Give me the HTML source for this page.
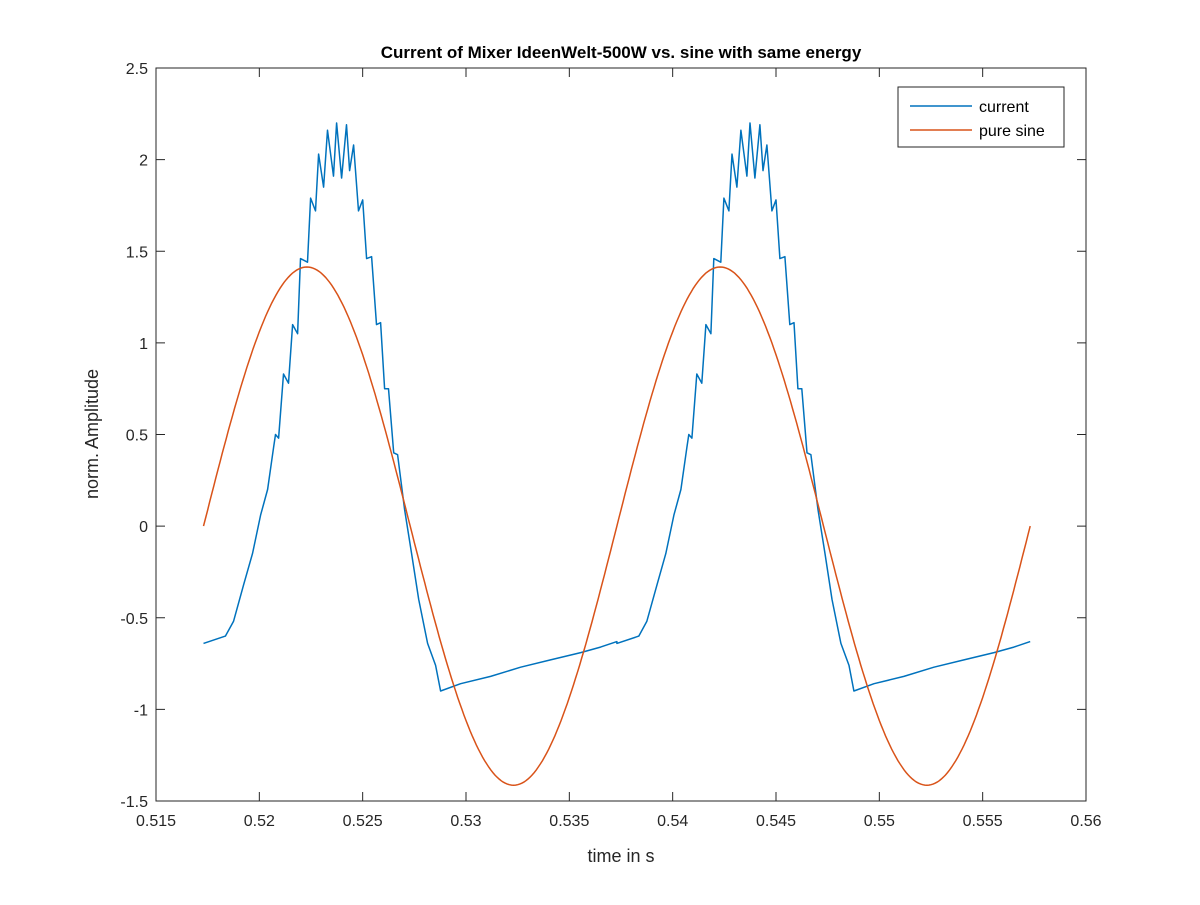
<!DOCTYPE html>
<html><head><meta charset="utf-8"><style>
body{margin:0;background:#fff}
svg text{font-family:"Liberation Sans",sans-serif;fill:#262626}
</style></head><body>
<svg id="chart" width="1200" height="900">
<rect x="0" y="0" width="1200" height="900" fill="#fff"/>
<rect x="156" y="68" width="930" height="733" fill="#fff"/>
<g id="grid"></g>
<clipPath id="clip"><rect x="156" y="68" width="930" height="733"/></clipPath>
<g id="series" clip-path="url(#clip)"></g>
<rect x="156" y="68" width="930" height="733" fill="none" stroke="#262626" stroke-width="1"/>
<text x="621" y="58" text-anchor="middle" font-size="17" font-weight="bold" style="fill:#000">Current of Mixer IdeenWelt-500W vs. sine with same energy</text>
<text x="621" y="862" text-anchor="middle" font-size="18">time in s</text>
<text x="98" y="434" text-anchor="middle" font-size="18" transform="rotate(-90 98 434)">norm. Amplitude</text>
<g>
<rect x="898" y="87" width="166" height="60" fill="#fff" stroke="#262626" stroke-width="1"/>
<line x1="910" y1="106" x2="972" y2="106" stroke="#0072BD" stroke-width="1.5"/>
<text x="979" y="112" font-size="16" style="fill:#000">current</text>
<line x1="910" y1="130" x2="972" y2="130" stroke="#D95319" stroke-width="1.5"/>
<text x="979" y="136" font-size="16" style="fill:#000">pure sine</text>
</g>
</svg>
<script>
const xTicks=[0.515,0.52,0.525,0.53,0.535,0.54,0.545,0.55,0.555,0.56];
const xTickLabels=["0.515","0.52","0.525","0.53","0.535","0.54","0.545","0.55","0.555","0.56"];
const yTicks=[-1.5,-1,-0.5,0,0.5,1,1.5,2,2.5];
const yTickLabels=["-1.5","-1","-0.5","0","0.5","1","1.5","2","2.5"];
const cycleStarts=[0.5173,0.5373];
// time since cycle start (s)
const cycleDt=[0,0.00106,0.00145,0.00194,0.00237,0.00276,0.00310,0.00339,0.00348,0.00363,0.00387,0.00411,0.00431,0.00455,0.00469,0.00503,0.00518,0.00542,0.00557,0.00581,0.00600,0.00629,0.00644,0.00668,0.00692,0.00707,0.00726,0.00750,0.00770,0.00789,0.00813,0.00837,0.00857,0.00876,0.00895,0.00920,0.00939,0.00973,0.01007,0.01041,0.01084,0.01123,0.01147,0.01244,0.01389,0.01534,0.01679,0.01825,0.01921,0.02000];
const cycleY=[-0.64,-0.60,-0.52,-0.32,-0.15,0.06,0.20,0.43,0.50,0.48,0.83,0.78,1.10,1.05,1.46,1.44,1.79,1.72,2.03,1.85,2.16,1.91,2.20,1.90,2.19,1.94,2.08,1.72,1.78,1.46,1.47,1.10,1.11,0.75,0.75,0.40,0.39,0.09,-0.15,-0.40,-0.64,-0.76,-0.90,-0.86,-0.82,-0.77,-0.73,-0.69,-0.66,-0.63];
const sineAmp=1.414, sineFreq=50, sineStart=0.5173, sineEnd=0.5573;

const X0=156,X1=1086,Y0=801,Y1=68,xmin=0.515,xmax=0.56,ymin=-1.5,ymax=2.5;
const sx=v=>X0+(v-xmin)/(xmax-xmin)*(X1-X0);
const sy=v=>Y0-(v-ymin)/(ymax-ymin)*(Y0-Y1);
const NS="http://www.w3.org/2000/svg";
const grid=document.getElementById('grid'), series=document.getElementById('series');
function mk(tag,attrs,parent){const e=document.createElementNS(NS,tag);for(const k in attrs)e.setAttribute(k,attrs[k]);parent.appendChild(e);return e;}
xTicks.forEach((t,i)=>{
  const x=sx(t);
  const a=mk('line',{x1:x,y1:Y0,x2:x,y2:Y0-9,stroke:'#262626'},grid);
  
  
  mk('line',{x1:x,y1:Y1,x2:x,y2:Y1+9,stroke:'#262626'},grid);
  const tx=mk('text',{x:x,y:Y0+25,'text-anchor':'middle','font-size':16},grid);
  tx.textContent=xTickLabels[i];
  
  
});
yTicks.forEach((t,i)=>{
  const y=sy(t);
  const a=mk('line',{x1:X0,y1:y,x2:X0+9,y2:y,stroke:'#262626'},grid);
  
  
  mk('line',{x1:X1,y1:y,x2:X1-9,y2:y,stroke:'#262626'},grid);
  const tx=mk('text',{x:X0-8,y:y+6,'text-anchor':'end','font-size':16},grid);
  tx.textContent=yTickLabels[i];
  
  
});
let pts=[];
cycleStarts.forEach(c=>{cycleDt.forEach((d,i)=>pts.push(sx(c+d).toFixed(1)+','+sy(cycleY[i]).toFixed(1)));});
const cur=mk('polyline',{points:pts.join(' '),fill:'none',stroke:'#0072BD','stroke-width':1.5,'stroke-linejoin':'round'},series);


let sp=[];
for(let i=0;i<=400;i++){const t=sineStart+(sineEnd-sineStart)*i/400;sp.push(sx(t).toFixed(1)+','+sy(sineAmp*Math.sin(2*Math.PI*sineFreq*(t-sineStart))).toFixed(1));}
const sl=mk('polyline',{points:sp.join(' '),fill:'none',stroke:'#D95319','stroke-width':1.5},series);


</script>
</body></html>
